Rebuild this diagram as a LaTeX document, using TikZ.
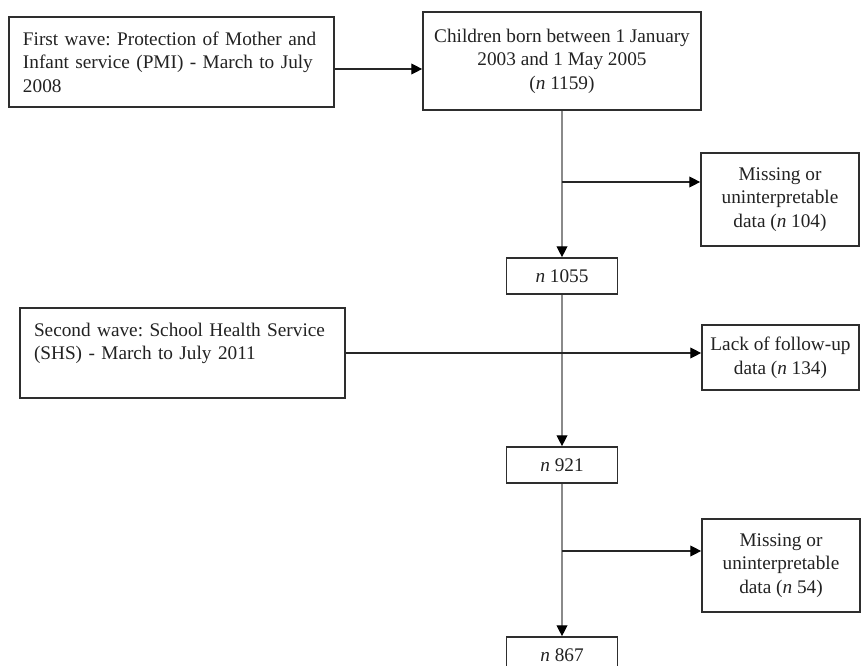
\documentclass[tikz,border=0pt]{standalone}
\usepackage{fontspec}
\setmainfont{Liberation Serif}
\usepackage{tikz}
\usetikzlibrary{arrows.meta,positioning,calc}
\definecolor{linhacinza}{HTML}{8A8A8A}
\definecolor{borda}{HTML}{2E2E2E}
\definecolor{texto}{HTML}{222222}
\frenchspacing

\begin{document}
\begin{tikzpicture}[
  font=\fontsize{13.7}{16.8}\selectfont, text=texto,
  onda/.style={draw=borda, line width=1.2pt, fill=white,
               text width=7.425cm, inner xsep=0.35cm, align=left,
               minimum height=2.25cm},
  coorte/.style={draw=borda, line width=1.2pt, fill=white, align=center,
                 minimum width=6.95cm, minimum height=2.45cm},
  perda/.style={draw=borda, line width=1.2pt, fill=white, align=center,
                minimum width=3.95cm, minimum height=2.325cm},
  total/.style={draw=borda, line width=1.2pt, fill=white, align=center,
                minimum width=2.775cm, minimum height=0.9cm},
  seta/.style={-{Triangle[length=0.27cm, width=0.27cm, black]}, black!85, line width=0.8pt},
  fluxo/.style={-{Triangle[length=0.27cm, width=0.27cm, black]}, linhacinza, line width=0.9pt}
]
\useasboundingbox (0,0) rectangle (21.55,-16.65);
\node[onda]   (wave1)  at (4.2875,-1.55)   {First wave: Protection of Mother and Infant service (PMI) - March to July 2008};
\node[coorte] (cohort) at (14.05,-1.525)   {Children born between 1 January\\2003 and 1 May 2005\\(\textit{n} 1159)};
\node[perda]  (miss1)  at (19.5,-4.9875)   {Missing or\\uninterpretable\\data (\textit{n} 104)};
\node[total]  (n1)     at (14.05,-6.9)     {\textit{n} 1055};
\node[onda]   (wave2)  at (4.5625,-8.825)  {Second wave: School Health Service (SHS) - March to July 2011\\\mbox{}};
\node[perda, minimum width=3.925cm, minimum height=1.625cm]
              (lack)   at (19.5125,-8.9375) {Lack of follow-up\\data (\textit{n} 134)};
\node[total]  (n2)     at (14.05,-11.625)  {\textit{n} 921};
\node[perda]  (miss2)  at (19.525,-14.1375) {Missing or\\uninterpretable\\data (\textit{n} 54)};
\node[total]  (n3)     at (14.05,-16.375)  {\textit{n} 867};
\coordinate (j1) at (14.05,-4.55);
\coordinate (j2) at (14.05,-13.775);
% fluxo principal
\draw[fluxo] (cohort) -- (n1);
\draw[fluxo] (n1) -- (n2);
\draw[fluxo] (n2) -- (n3);
% ondas e perdas
\draw[seta] ([yshift=-0.175cm]wave1.east) -- ([yshift=-0.175cm]wave1.east -| cohort.west);
\draw[seta] (j1) -- (j1 -| miss1.west);
\draw[seta] (wave2.east) -- (wave2.east -| lack.west);
\draw[seta] (j2) -- (j2 -| miss2.west);
\end{tikzpicture}
\end{document}
